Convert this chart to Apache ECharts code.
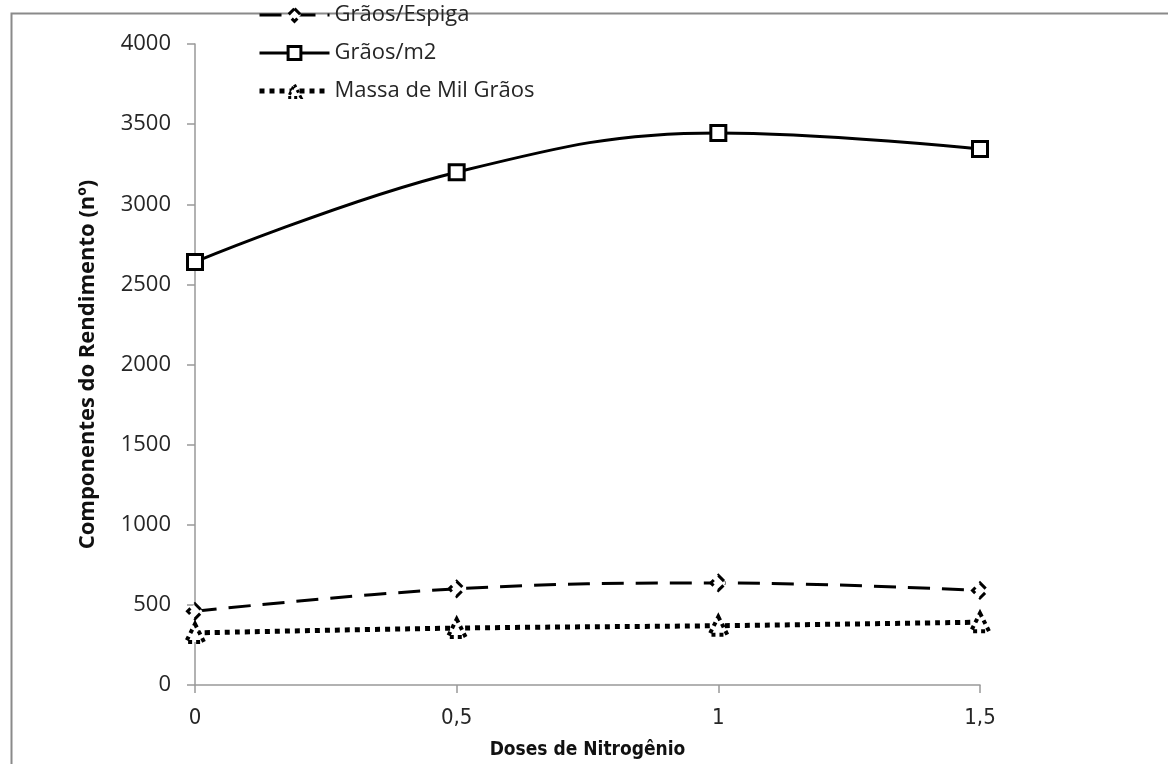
<!DOCTYPE html>
<html>
<head>
<meta charset="utf-8">
<script src="https://cdn.jsdelivr.net/npm/echarts@6/dist/echarts.min.js"></script>
<style>html,body{margin:0;padding:0;background:#fff}#c{width:1168px;height:764px}</style>
</head>
<body>
<div id="c"></div>
<script>
var doses = [0, 0.5, 1, 1.5];
var graosEspiga = [460, 600, 637, 590];
var graosM2 = [2640, 3200, 3445, 3345];
var massaMil = [325, 355, 370, 392];
var yTicks = [0, 500, 1000, 1500, 2000, 2500, 3000, 3500, 4000];

function pairs(arr) { return doses.map(function (d, i) { return [d, arr[i]]; }); }

var chart = echarts.init(document.getElementById('c'));
var font = '"Open Sans", "Liberation Sans", sans-serif';
var condensed = '"DejaVu Sans Condensed", "Liberation Sans Narrow", "Open Sans", sans-serif';
var dashEsp = [22, 12], dotMassa = [5, 5];
chart.setOption({
  animation: false,
  backgroundColor: '#fff',
  graphic: [{
    type: 'rect', left: 9, top: 11, silent: true,
    shape: { width: 1200, height: 800 },
    style: { fill: 'none', stroke: '#8a8a8a', lineWidth: 2 }
  }],
  grid: { left: 195, right: 188, top: 44, bottom: 79, containLabel: false, outerBoundsMode: 'none' },
  legend: {
    orient: 'vertical', left: 252, top: -1, itemWidth: 70, itemHeight: 16, itemGap: 16,
    textStyle: { fontFamily: font, fontSize: 22, color: '#262626' },
    data: [
      { name: 'Grãos/Espiga', lineStyle: { width: 3, type: dashEsp, color: '#000' },
        itemStyle: { color: '#fff', borderColor: '#000', borderWidth: 3, borderType: [8, 6] } },
      { name: 'Grãos/m2', lineStyle: { width: 3, color: '#000' },
        itemStyle: { color: '#fff', borderColor: '#000', borderWidth: 3 } },
      { name: 'Massa de Mil Grãos', lineStyle: { width: 5, type: dotMassa, color: '#000' },
        itemStyle: { color: '#fff', borderColor: '#000', borderWidth: 3, borderType: [3, 3] } }
    ]
  },
  xAxis: {
    type: 'value', min: 0, max: 1.5, interval: 0.5,
    name: 'Doses de Nitrogênio', nameLocation: 'middle', nameGap: 56,
    nameTextStyle: { fontFamily: condensed, fontWeight: 'bold', fontSize: 19, color: '#111' },
    axisLine: { lineStyle: { color: '#999', width: 1.5 } },
    axisTick: { show: true, length: 8, lineStyle: { color: '#999', width: 1.5 } },
    splitLine: { show: false },
    axisLabel: {
      margin: 22, fontFamily: condensed, fontSize: 22, color: '#262626',
      formatter: function (v) { return String(v).replace('.', ','); }
    }
  },
  yAxis: {
    type: 'value', min: yTicks[0], max: yTicks[yTicks.length - 1], interval: 500,
    name: 'Componentes do Rendimento (nº)', nameLocation: 'middle', nameGap: 96, nameRotate: 90,
    nameTextStyle: { fontFamily: font, fontWeight: 'bold', fontSize: 22, color: '#111' },
    axisLine: { show: true, lineStyle: { color: '#999', width: 1.5 } },
    axisTick: { show: true, length: 8, lineStyle: { color: '#999', width: 1.5 } },
    splitLine: { show: false },
    axisLabel: { margin: 24, fontFamily: font, fontSize: 22, color: '#262626',
      formatter: function (v) { return String(v); } }
  },
  series: [
    {
      name: 'Grãos/Espiga', type: 'line', smooth: 0.4, data: pairs(graosEspiga),
      symbol: 'diamond', symbolSize: 15,
      lineStyle: { color: '#000', width: 3, type: dashEsp },
      itemStyle: { color: '#fff', borderColor: '#000', borderWidth: 3, borderType: [8, 6] }
    },
    {
      name: 'Grãos/m2', type: 'line', smooth: 0.4, data: pairs(graosM2),
      symbol: 'rect', symbolSize: 15,
      lineStyle: { color: '#000', width: 3 },
      itemStyle: { color: '#fff', borderColor: '#000', borderWidth: 3 }
    },
    {
      name: 'Massa de Mil Grãos', type: 'line', smooth: 0.4, data: pairs(massaMil),
      symbol: 'triangle', symbolSize: 18,
      lineStyle: { color: '#000', width: 5, type: dotMassa },
      itemStyle: { color: '#fff', borderColor: '#000', borderWidth: 4, borderType: [4, 4] }
    }
  ]
});
</script>
</body>
</html>
